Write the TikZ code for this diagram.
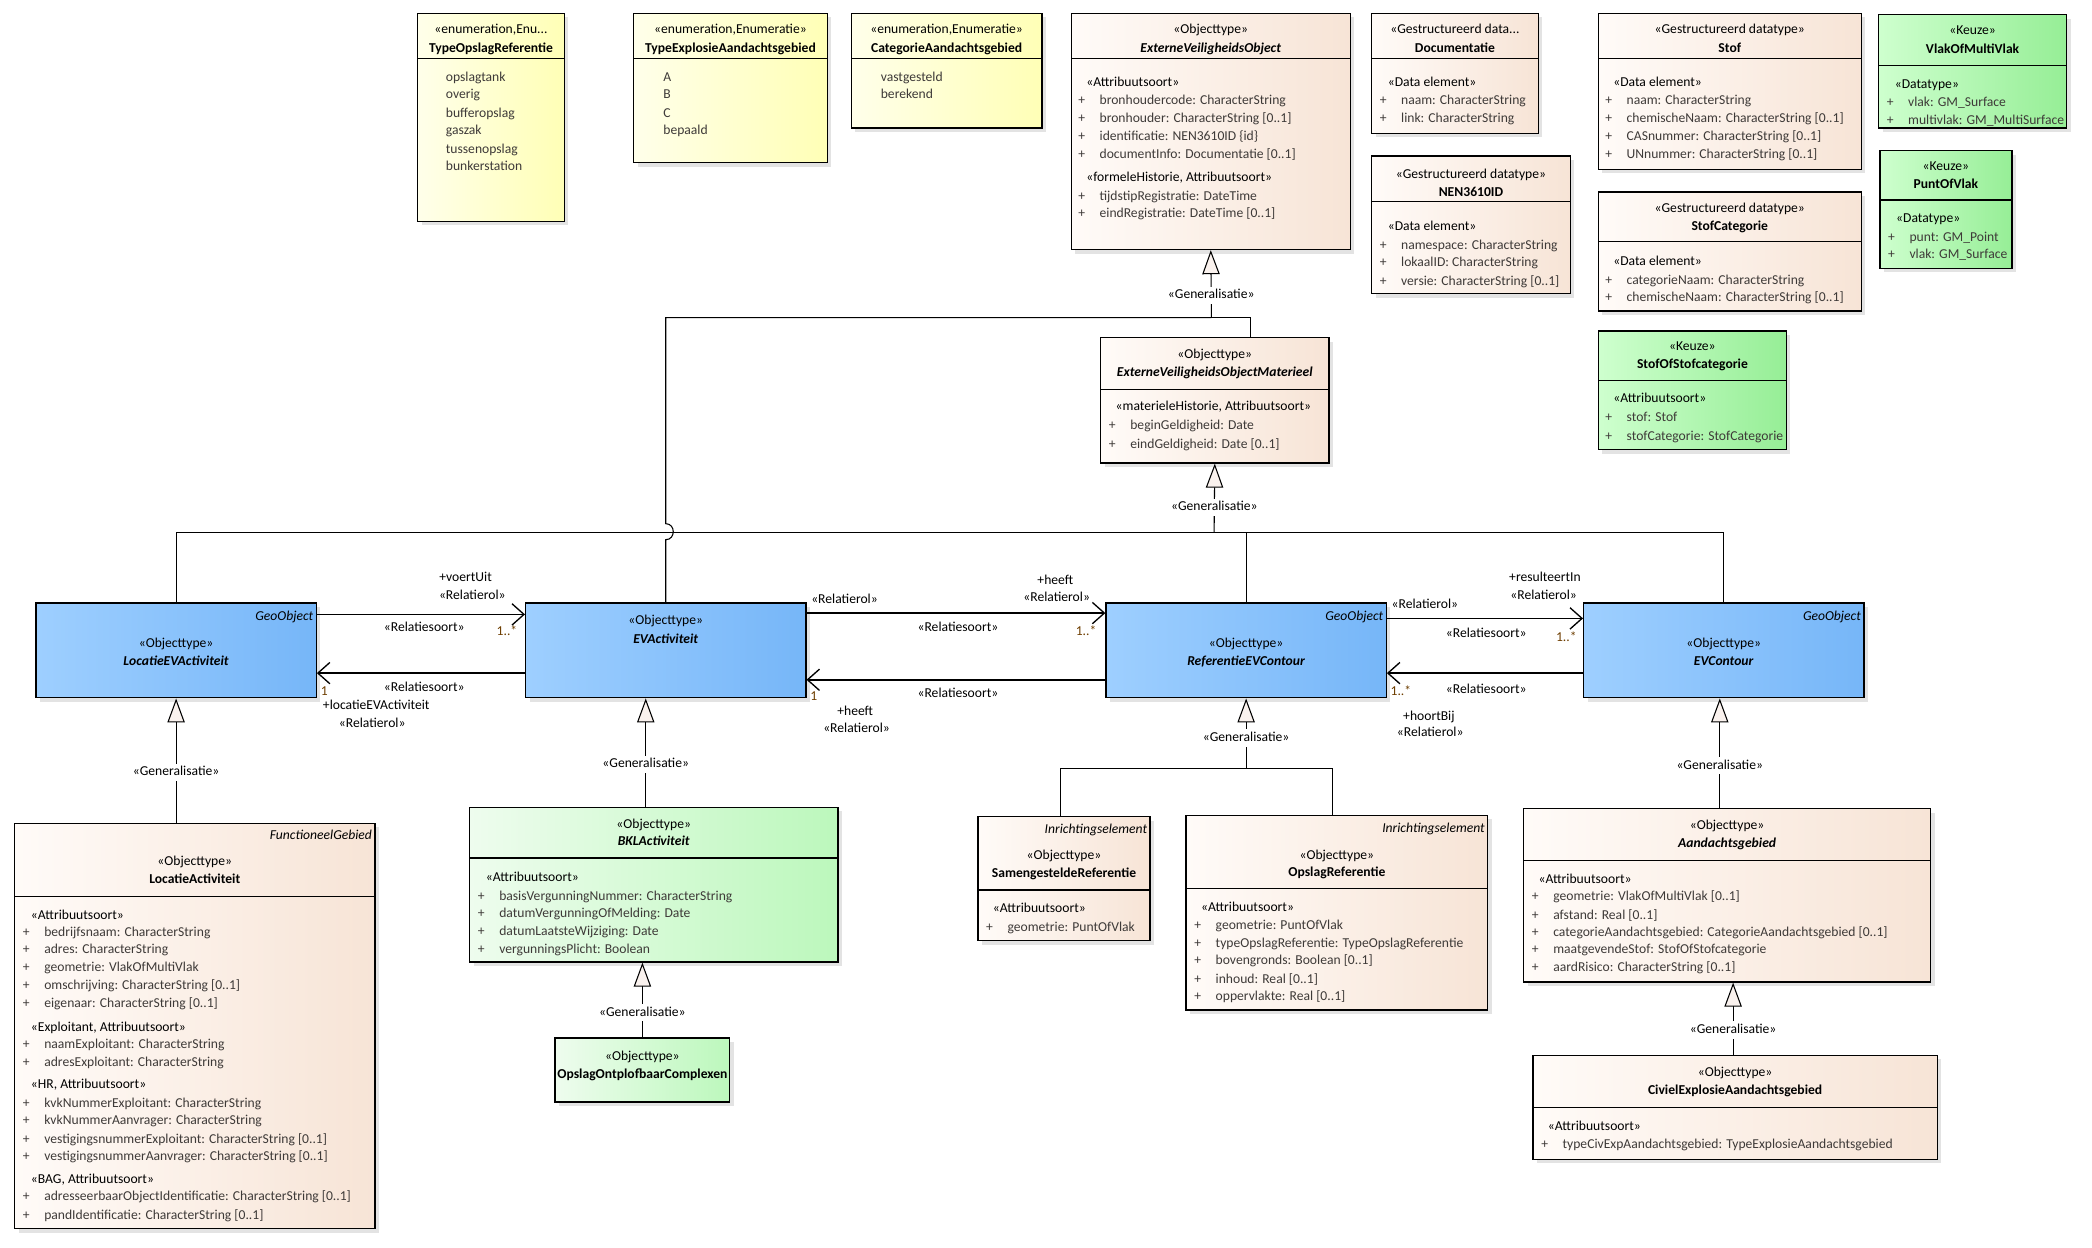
\documentclass[tikz,border=0pt]{standalone}
\usepackage{fontspec}
\setmainfont{Carlito}
\usetikzlibrary{arrows.meta,fit,shadows}
\definecolor{rowc}{RGB}{62,58,56}
\definecolor{multc}{RGB}{110,62,0}
\definecolor{peachL}{RGB}{255,251,248}
\definecolor{peachR}{RGB}{247,228,214}
\definecolor{yelL}{RGB}{255,255,234}
\definecolor{yelR}{RGB}{255,255,182}
\definecolor{blueL}{RGB}{158,207,255}
\definecolor{blueR}{RGB}{118,182,248}
\definecolor{grnL}{RGB}{238,252,238}
\definecolor{grnR}{RGB}{188,248,188}
\definecolor{keuL}{RGB}{206,255,206}
\definecolor{keuR}{RGB}{150,238,150}
\definecolor{triF}{RGB}{250,242,238}
\tikzset{
  box/.style={draw=black, line width=1pt, inner sep=0pt, rectangle,
    drop shadow={opacity=0.22, shadow xshift=3pt, shadow yshift=-3pt}},
  peach/.style={left color=peachL, right color=peachR},
  yel/.style={left color=yelL, right color=yelR},
  blu/.style={left color=blueL, right color=blueR},
  grn/.style={left color=grnL, right color=grnR},
  keu/.style={left color=keuL, right color=keuR},
  tx/.style={inner sep=0pt, font=\fontsize{10.2}{12}\selectfont, text height=7pt, text depth=2pt, yshift=-1.5pt},
  rw/.style={tx, anchor=west, text=rowc},
  sg/.style={tx, anchor=west},
  hc/.style={tx, anchor=center},
  ge/.style={tx, anchor=east, font=\fontsize{10.2}{12}\selectfont\itshape},
  lb/.style={tx, anchor=center},
  mu/.style={tx, anchor=center, text=multc},
  glab/.style={tx, anchor=center, fill=white, inner xsep=1pt, inner ysep=2pt, yshift=1.5pt},
  gline/.style={draw=black, line width=0.8pt},
  gen/.style={gline, -{Triangle[length=18pt, width=13pt, fill=triF]}},
  assoc/.style={draw=black, line width=1.1pt, -{Straight Barb[length=9pt, width=16pt, line width=1pt]}},
}
\newcommand\cbox[6]{\node[box,#6,fit={(#2,#3) (#4,#5)}] (#1) {};}
\newcommand\dv[3]{\draw[line width=1pt] (#1,#3) -- (#2,#3);}
\newcommand\pr[3]{\node[rw] at (#1,#2) {+}; \node[rw] at ({#1+16},#2) {#3};}
\begin{document}
\begin{tikzpicture}[x=1pt,y=-1pt]
\useasboundingbox[fill=white] (0,0) rectangle (1568,935);

% ---------- enumerations ----------
\cbox{tor}{313}{10}{423}{166}{yel}
\dv{313}{423}{44}
\node[hc] at (368,21) {«enumeration,Enu...};
\node[hc] at (368,35) {\textbf{TypeOpslagReferentie}};
\node[rw] at (334,57) {opslagtank};
\node[rw] at (334,70) {overig};
\node[rw] at (334,84) {bufferopslag};
\node[rw] at (334,97) {gaszak};
\node[rw] at (334,111) {tussenopslag};
\node[rw] at (334,124) {bunkerstation};

\cbox{tea}{475}{10}{620}{122}{yel}
\dv{475}{620}{44}
\node[hc] at (547.5,21) {«enumeration,Enumeratie»};
\node[hc] at (547.5,35) {\textbf{TypeExplosieAandachtsgebied}};
\node[rw] at (497,57) {A};
\node[rw] at (497,70) {B};
\node[rw] at (497,84) {C};
\node[rw] at (497,97) {bepaald};

\cbox{cat}{638}{10}{781}{96}{yel}
\dv{638}{781}{44}
\node[hc] at (709.5,21) {«enumeration,Enumeratie»};
\node[hc] at (709.5,35) {\textbf{CategorieAandachtsgebied}};
\node[rw] at (660,57) {vastgesteld};
\node[rw] at (660,70) {berekend};

% ---------- ExterneVeiligheidsObject ----------
\cbox{evo}{803}{10}{1012}{187}{peach}
\dv{803}{1012}{44}
\node[hc] at (907.5,21) {«Objecttype»};
\node[hc] at (907.5,35) {\textbf{\textit{ExterneVeiligheidsObject}}};
\node[sg] at (814,61) {«Attribuutsoort»};
\pr{808}{74}{bronhoudercode: CharacterString}
\pr{808}{88}{bronhouder: CharacterString [0..1]}
\pr{808}{101}{identificatie: NEN3610ID \{id\}}
\pr{808}{115}{documentInfo: Documentatie [0..1]}
\node[sg] at (814,132) {«formeleHistorie, Attribuutsoort»};
\pr{808}{146}{tijdstipRegistratie: DateTime}
\pr{808}{159}{eindRegistratie: DateTime [0..1]}

% ---------- datatypes ----------
\cbox{doc}{1028}{10}{1153}{100}{peach}
\dv{1028}{1153}{44}
\node[hc] at (1090.5,21) {«Gestructureerd data...};
\node[hc] at (1090.5,35) {\textbf{Documentatie}};
\node[sg] at (1040,61) {«Data element»};
\pr{1034}{74}{naam: CharacterString}
\pr{1034}{88}{link: CharacterString}

\cbox{nen}{1028}{117}{1177}{220}{peach}
\dv{1028}{1177}{151}
\node[hc] at (1102.5,130) {«Gestructureerd datatype»};
\node[hc] at (1102.5,143) {\textbf{NEN3610ID}};
\node[sg] at (1040,169) {«Data element»};
\pr{1034}{183}{namespace: CharacterString}
\pr{1034}{196}{lokaalID: CharacterString}
\pr{1034}{210}{versie: CharacterString [0..1]}

\cbox{stof}{1198}{10}{1395}{127}{peach}
\dv{1198}{1395}{44}
\node[hc] at (1296.5,21) {«Gestructureerd datatype»};
\node[hc] at (1296.5,35) {\textbf{Stof}};
\node[sg] at (1209,61) {«Data element»};
\pr{1203}{74}{naam: CharacterString}
\pr{1203}{88}{chemischeNaam: CharacterString [0..1]}
\pr{1203}{101}{CASnummer: CharacterString [0..1]}
\pr{1203}{115}{UNnummer: CharacterString [0..1]}

\cbox{stofcat}{1198}{144}{1395}{233}{peach}
\dv{1198}{1395}{181}
\node[hc] at (1296.5,155) {«Gestructureerd datatype»};
\node[hc] at (1296.5,169) {\textbf{StofCategorie}};
\node[sg] at (1209,195) {«Data element»};
\pr{1203}{209}{categorieNaam: CharacterString}
\pr{1203}{222}{chemischeNaam: CharacterString [0..1]}

\cbox{vmv}{1408}{11}{1549}{96}{keu}
\dv{1408}{1549}{49}
\node[hc] at (1478.5,22) {«Keuze»};
\node[hc] at (1478.5,36) {\textbf{VlakOfMultiVlak}};
\node[sg] at (1420,62) {«Datatype»};
\pr{1414}{76}{vlak: GM\_Surface}
\pr{1414}{89}{multivlak: GM\_MultiSurface}

\cbox{pov}{1409}{113}{1508}{201}{keu}
\dv{1409}{1508}{150}
\node[hc] at (1458.5,124) {«Keuze»};
\node[hc] at (1458.5,137) {\textbf{PuntOfVlak}};
\node[sg] at (1421,163) {«Datatype»};
\pr{1415}{177}{punt: GM\_Point}
\pr{1415}{190}{vlak: GM\_Surface}

\cbox{sos}{1198}{248}{1339}{337}{keu}
\dv{1198}{1339}{285}
\node[hc] at (1268.5,259) {«Keuze»};
\node[hc] at (1268.5,272) {\textbf{StofOfStofcategorie}};
\node[sg] at (1209,298) {«Attribuutsoort»};
\pr{1203}{312}{stof: Stof}
\pr{1203}{326}{stofCategorie: StofCategorie}

% ---------- ExterneVeiligheidsObjectMaterieel ----------
\cbox{evom}{825}{253}{996}{347}{peach}
\dv{825}{996}{292}
\node[hc] at (910.5,265) {«Objecttype»};
\node[hc] at (910.5,278) {\textbf{\textit{ExterneVeiligheidsObjectMaterieel}}};
\node[sg] at (836,304) {«materieleHistorie, Attribuutsoort»};
\pr{831}{318}{beginGeldigheid: Date}
\pr{831}{332}{eindGeldigheid: Date [0..1]}

% ---------- blue object types ----------
\cbox{leva}{27}{452}{237}{523}{blu}
\node[ge] at (235,461) {GeoObject};
\node[hc] at (132,481) {«Objecttype»};
\node[hc] at (132,495) {\textbf{\textit{LocatieEVActiviteit}}};

\cbox{eva}{394}{452}{604}{523}{blu}
\node[hc] at (499,464) {«Objecttype»};
\node[hc] at (499,478) {\textbf{\textit{EVActiviteit}}};

\cbox{revc}{829}{452}{1039}{523}{blu}
\node[ge] at (1037,461) {GeoObject};
\node[hc] at (934,481) {«Objecttype»};
\node[hc] at (934,495) {\textbf{\textit{ReferentieEVContour}}};

\cbox{evc}{1187}{452}{1397}{523}{blu}
\node[ge] at (1395,461) {GeoObject};
\node[hc] at (1292,481) {«Objecttype»};
\node[hc] at (1292,495) {\textbf{\textit{EVContour}}};

% ---------- LocatieActiviteit ----------
\cbox{la}{11}{617}{281}{921}{peach}
\dv{11}{281}{672}
\node[ge] at (279,625) {FunctioneelGebied};
\node[hc] at (146,645) {«Objecttype»};
\node[hc] at (146,658) {\textbf{LocatieActiviteit}};
\node[sg] at (23,685) {«Attribuutsoort»};
\pr{17}{698}{bedrijfsnaam: CharacterString}
\pr{17}{711}{adres: CharacterString}
\pr{17}{724}{geometrie: VlakOfMultiVlak}
\pr{17}{738}{omschrijving: CharacterString [0..1]}
\pr{17}{751}{eigenaar: CharacterString [0..1]}
\node[sg] at (23,769) {«Exploitant, Attribuutsoort»};
\pr{17}{782}{naamExploitant: CharacterString}
\pr{17}{795}{adresExploitant: CharacterString}
\node[sg] at (23,812) {«HR, Attribuutsoort»};
\pr{17}{826}{kvkNummerExploitant: CharacterString}
\pr{17}{839}{kvkNummerAanvrager: CharacterString}
\pr{17}{853}{vestigingsnummerExploitant: CharacterString [0..1]}
\pr{17}{866}{vestigingsnummerAanvrager: CharacterString [0..1]}
\node[sg] at (23,883) {«BAG, Attribuutsoort»};
\pr{17}{896}{adresseerbaarObjectIdentificatie: CharacterString [0..1]}
\pr{17}{910}{pandIdentificatie: CharacterString [0..1]}

% ---------- BKLActiviteit ----------
\cbox{bkl}{352}{605}{628}{721}{grn}
\dv{352}{628}{643}
\node[hc] at (490,617) {«Objecttype»};
\node[hc] at (490,630) {\textbf{\textit{BKLActiviteit}}};
\node[sg] at (364,657) {«Attribuutsoort»};
\pr{358}{671}{basisVergunningNummer: CharacterString}
\pr{358}{684}{datumVergunningOfMelding: Date}
\pr{358}{697}{datumLaatsteWijziging: Date}
\pr{358}{711}{vergunningsPlicht: Boolean}

\cbox{ooc}{416}{778}{547}{826}{grn}
\node[hc] at (481.5,791) {«Objecttype»};
\node[hc] at (481.5,804) {\textbf{OpslagOntplofbaarComplexen}};

% ---------- Inrichtingselementen ----------
\cbox{sr}{733}{612}{862}{705}{peach}
\dv{733}{862}{667}
\node[ge] at (860,621) {Inrichtingselement};
\node[hc] at (797.5,640) {«Objecttype»};
\node[hc] at (797.5,654) {\textbf{SamengesteldeReferentie}};
\node[sg] at (744,680) {«Attribuutsoort»};
\pr{739}{694}{geometrie: PuntOfVlak}

\cbox{or}{889}{611}{1115}{757}{peach}
\dv{889}{1115}{666}
\node[ge] at (1113,620) {Inrichtingselement};
\node[hc] at (1002,640) {«Objecttype»};
\node[hc] at (1002,653) {\textbf{OpslagReferentie}};
\node[sg] at (900,679) {«Attribuutsoort»};
\pr{895}{693}{geometrie: PuntOfVlak}
\pr{895}{706}{typeOpslagReferentie: TypeOpslagReferentie}
\pr{895}{719}{bovengronds: Boolean [0..1]}
\pr{895}{733}{inhoud: Real [0..1]}
\pr{895}{746}{oppervlakte: Real [0..1]}

% ---------- Aandachtsgebied ----------
\cbox{ag}{1142}{606}{1447}{736}{peach}
\dv{1142}{1447}{645}
\node[hc] at (1294.5,618) {«Objecttype»};
\node[hc] at (1294.5,631) {\textbf{\textit{Aandachtsgebied}}};
\node[sg] at (1153,658) {«Attribuutsoort»};
\pr{1148}{671}{geometrie: VlakOfMultiVlak [0..1]}
\pr{1148}{685}{afstand: Real [0..1]}
\pr{1148}{698}{categorieAandachtsgebied: CategorieAandachtsgebied [0..1]}
\pr{1148}{711}{maatgevendeStof: StofOfStofcategorie}
\pr{1148}{724}{aardRisico: CharacterString [0..1]}

\cbox{cea}{1149}{791}{1452}{869}{peach}
\dv{1149}{1452}{830}
\node[hc] at (1300.5,803) {«Objecttype»};
\node[hc] at (1300.5,816) {\textbf{CivielExplosieAandachtsgebied}};
\node[sg] at (1160,843) {«Attribuutsoort»};
\pr{1155}{857}{typeCivExpAandachtsgebied: TypeExplosieAandachtsgebied}

% ---------- generalisations ----------
\coordinate (j1) at (908,238);
\coordinate (j2) at (910,399);
\coordinate (j3) at (934,576);
\draw[gline] ([xshift=26.5pt]evom.north) |- (j1);
\draw[gline] (eva.north) -- ++(0,-47) to[out=0,in=0,looseness=1.6] ++(0,-12) |- (j1);
\draw[gen] (j1) -- node[glab,pos=0.33] (g1) {«Generalisatie»} (evo.south);

\draw[gline] (leva.north) |- (j2);
\draw[gline] (revc.north) -- (revc.north |- j2);
\draw[gline] (evc.north) |- (j2);
\draw[gen] (j2) -- node[glab,pos=0.365] (g2) {«Generalisatie»} (evom.south);

\draw[gline] ([xshift=-2.5pt]sr.north) |- (j3);
\draw[gline] ([xshift=-3pt]or.north) |- (j3);
\draw[gen] (j3) -- node[glab,pos=0.434] (g3) {«Generalisatie»} (revc.south);

\draw[gen] (leva.south |- la.north) -- node[glab,pos=0.404] (g4) {«Generalisatie»} (leva.south);
\draw[gen] ([xshift=-6pt]bkl.north) -- node[glab,pos=0.39] (g5) {«Generalisatie»} ([xshift=-15pt]eva.south);
\draw[gen] (ooc.north) -- node[glab,pos=0.33] (g6) {«Generalisatie»} (ooc.north |- bkl.south);
\draw[gen] ([xshift=-5.5pt]ag.north) -- node[glab,pos=0.385] (g7) {«Generalisatie»} ([xshift=-3pt]evc.south);
\draw[gen] ([xshift=-1.5pt]cea.north) -- node[glab,pos=0.345] (g8) {«Generalisatie»} ([xshift=-1.5pt]cea.north |- ag.south);

% ---------- associations ----------
\draw[assoc] ([yshift=-9pt]leva.north east) -- ([yshift=-9pt]eva.north west);
\draw[assoc] ([yshift=-53pt]eva.north west) -- ([yshift=-53pt]leva.north east);
\draw[assoc] ([yshift=-8pt]eva.north east) -- ([yshift=-8pt]revc.north west);
\draw[assoc] ([yshift=-58pt]revc.north west) -- ([yshift=-58pt]eva.north east);
\draw[assoc] ([yshift=-12pt]revc.north east) -- ([yshift=-12pt]evc.north west);
\draw[assoc] ([yshift=-53pt]evc.north west) -- ([yshift=-53pt]revc.north east);

\node[lb] at (349,432) {+voertUit};
\node[lb] at (354,445) {«Relatierol»};
\node[lb] at (318,469) {«Relatiesoort»};
\node[mu] at (380,472) {1..*};
\node[lb] at (318,514) {«Relatiesoort»};
\node[mu] at (243,517) {1};
\node[lb] at (282,528) {+locatieEVActiviteit};
\node[lb] at (279,541) {«Relatierol»};

\node[lb] at (633,448) {«Relatierol»};
\node[lb] at (791,434) {+heeft};
\node[lb] at (792,447) {«Relatierol»};
\node[lb] at (718,469) {«Relatiesoort»};
\node[mu] at (814,472) {1..*};
\node[lb] at (718,519) {«Relatiesoort»};
\node[mu] at (610,521) {1};
\node[lb] at (641,532) {+heeft};
\node[lb] at (642,545) {«Relatierol»};

\node[lb] at (1068,452) {«Relatierol»};
\node[lb] at (1158,432) {+resulteertIn};
\node[lb] at (1157,445) {«Relatierol»};
\node[lb] at (1114,474) {«Relatiesoort»};
\node[mu] at (1174,477) {1..*};
\node[mu] at (1050,517) {1..*};
\node[lb] at (1114,516) {«Relatiesoort»};
\node[lb] at (1071,536) {+hoortBij};
\node[lb] at (1072,548) {«Relatierol»};
\end{tikzpicture}
\end{document}
